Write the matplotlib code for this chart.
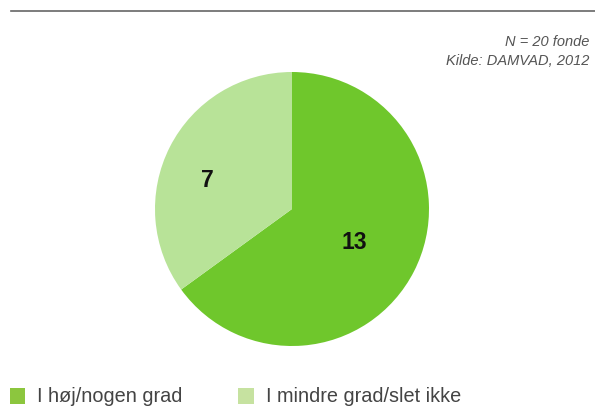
import matplotlib
matplotlib.use('Agg')
import numpy as np
from matplotlib import pyplot as plt
from matplotlib.patches import Patch
from matplotlib.lines import Line2D

# data
labels = ['I høj/nogen grad', 'I mindre grad/slet ikke']
values = [13, 7]
pie_colors = ['#6fc72c', '#b8e398']
legend_colors = ['#8cc63e', '#c6e2a0']
note_lines = ['N = 20 fonde', 'Kilde: DAMVAD, 2012']

# label placement (fraction of radius, degrees off the wedge middle)
label_radius = [0.52, 0.65]
label_shift = [-1.5, 8]

W, H = 595, 408
fig = plt.figure(figsize=(W / 100, H / 100), dpi=100)

# pie axes: center (292, 209) px, radius 137 px
r = 137
ax = fig.add_axes([(292 - r) / W, (H - 209 - r) / H, 2 * r / W, 2 * r / H])
wedges, _ = ax.pie(values, colors=pie_colors, startangle=90, counterclock=False,
                   wedgeprops=dict(linewidth=0))
ax.set_xlim(-1, 1)
ax.set_ylim(-1, 1)
ax.set_aspect('equal')
ax.axis('off')

for w, v, lr, sh in zip(wedges, values, label_radius, label_shift):
    ang = np.deg2rad((w.theta1 + w.theta2) / 2 + sh)
    ax.text(lr * np.cos(ang), lr * np.sin(ang), str(v), ha='center', va='center',
            fontsize=16.5, fontweight='bold', family='Liberation Sans', color='#111111')

# top rule
fig.add_artist(Line2D([11 / W, 1], [1 - 11 / H, 1 - 11 / H], color='#666666',
                      linewidth=1.2, transform=fig.transFigure))

# source note
for i, line in enumerate(note_lines):
    fig.text(589 / W, 1 - (42 + i * 19) / H, line, ha='right', va='center',
             fontsize=10.5, style='italic', family='Liberation Sans', color='#555555')

# legend
handles = [Patch(facecolor=c, edgecolor='none') for c in legend_colors]
fig.legend(handles, labels, ncol=2, loc='lower left', bbox_to_anchor=(10 / W, 1.5 / H),
           frameon=False, handlelength=0.78, handleheight=0.85,
           handletextpad=0.6, columnspacing=2.8, borderpad=0, borderaxespad=0,
           prop=dict(family='Liberation Sans', size=14.3))
for t in fig.legends[0].get_texts():
    t.set_color('#444444')

fig.savefig('out.png', dpi=100)
